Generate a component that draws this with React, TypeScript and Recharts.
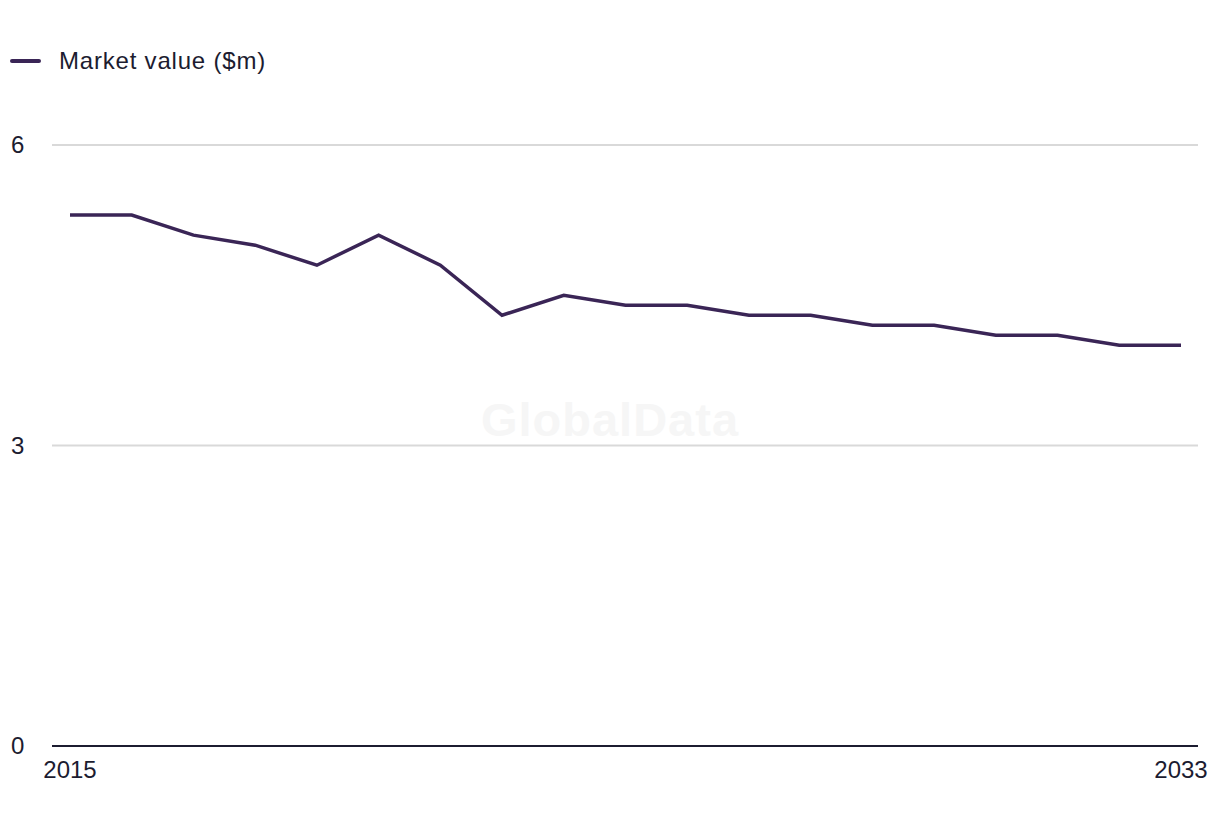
import { LineChart, Line, XAxis, YAxis, CartesianGrid } from 'recharts'

const years = [2015, 2016, 2017, 2018, 2019, 2020, 2021, 2022, 2023, 2024, 2025, 2026, 2027, 2028, 2029, 2030, 2031, 2032, 2033]
const marketValue = [5.3, 5.3, 5.1, 5.0, 4.8, 5.1, 4.8, 4.3, 4.5, 4.4, 4.4, 4.3, 4.3, 4.2, 4.2, 4.1, 4.1, 4.0, 4.0]
const yTicks = [0, 3, 6]
const xTicks = [2015, 2033]

const data = years.map((year, i) => ({ year, value: marketValue[i] }))

const FONT = '"Liberation Sans", Arial, sans-serif'
const TEXT = '#1c1c30'
const LINE = '#3a2556'

function YTick({ y, payload }: any) {
  return (
    <text x={11} y={y} dy={8} fill={TEXT} fontSize={24} fontFamily={FONT} textAnchor="start">
      {payload.value}
    </text>
  )
}

function XTick({ x, y, payload }: any) {
  return (
    <text x={x} y={y} dy={24} fill={TEXT} fontSize={24} fontFamily={FONT} textAnchor="middle">
      {payload.value}
    </text>
  )
}

export default function App() {
  return (
    <div style={{ position: 'absolute', left: 0, top: 0, width: 1220, height: 836, background: '#fff' }}>
      <div
        style={{
          position: 'absolute',
          left: 0,
          top: 392,
          width: 1220,
          textAlign: 'center',
          fontFamily: FONT,
          fontWeight: 700,
          fontSize: 47,
          letterSpacing: 1,
          color: '#f6f6f6'
        }}
      >
        GlobalData
      </div>
      <div style={{ position: 'absolute', left: 10, top: 47, display: 'flex', alignItems: 'center' }}>
        <div style={{ width: 31, height: 4, background: LINE, borderRadius: 2 }} />
        <span style={{ marginLeft: 18, fontFamily: FONT, fontSize: 24, letterSpacing: 0.8, color: TEXT }}>
          Market value ($m)
        </span>
      </div>
      <div style={{ position: 'absolute', left: 0, top: 0 }}>
        <LineChart width={1220} height={836} data={data} margin={{ top: 145, right: 22, bottom: 30, left: 0 }}>
          <CartesianGrid vertical={false} stroke="#d9d9d9" strokeWidth={2} />
          <XAxis
            dataKey="year"
            type="number"
            domain={[2015, 2033]}
            ticks={xTicks}
            padding={{ left: 18, right: 17 }}
            height={60}
            stroke="#1c1c30"
            strokeWidth={2}
            tickLine={false}
            tick={<XTick />}
          />
          <YAxis
            domain={[0, 6]}
            ticks={yTicks}
            width={52}
            axisLine={false}
            tickLine={false}
            tick={<YTick />}
          />
          <Line
            type="linear"
            dataKey="value"
            stroke={LINE}
            strokeWidth={3.5}
            dot={false}
            isAnimationActive={false}
          />
        </LineChart>
      </div>
    </div>
  )
}
